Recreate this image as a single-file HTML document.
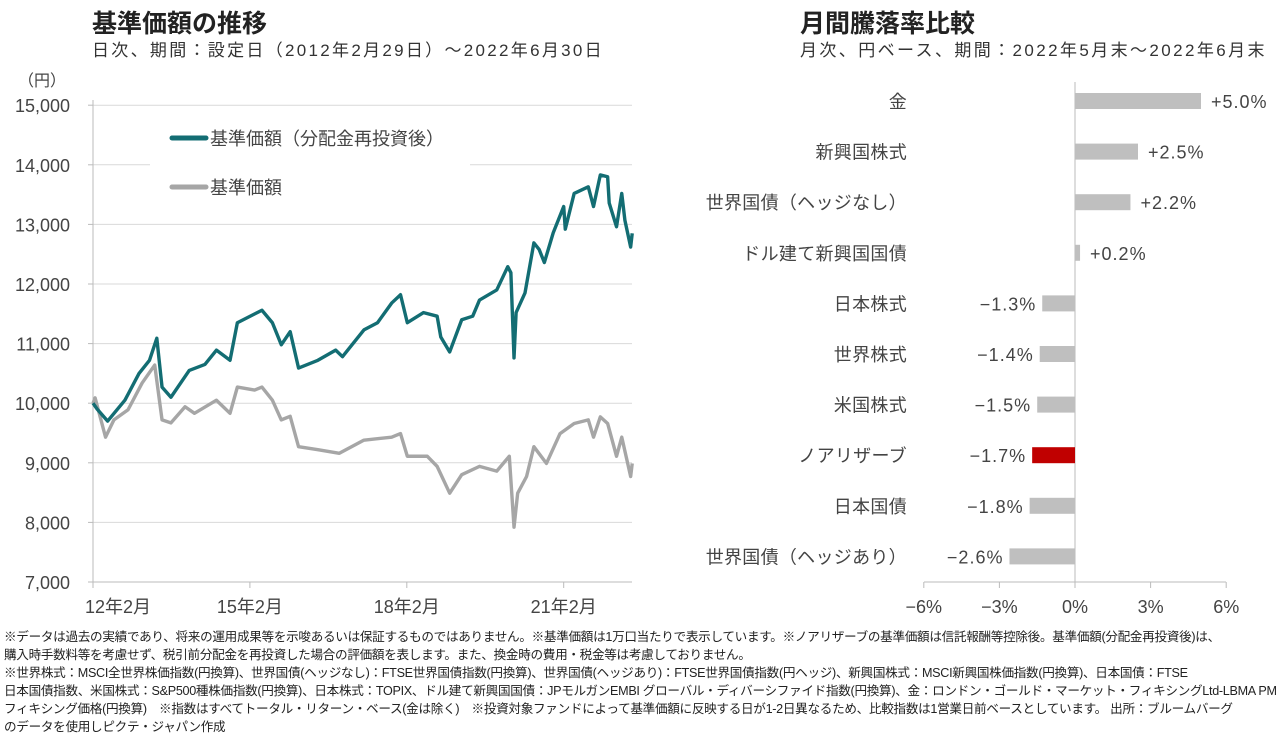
<!DOCTYPE html>
<html><head><meta charset="utf-8">
<style>
body{margin:0;width:1280px;height:730px;background:#fff;font-family:"Liberation Sans","Noto Sans CJK JP",sans-serif;color:#333;overflow:hidden;position:relative}
.t{position:absolute;white-space:nowrap}
.notes{position:absolute;left:4px;top:628px;font-size:12.6px;line-height:18px;letter-spacing:-0.3px;color:#222;white-space:nowrap}
</style></head><body>
<div class="t" style="left:92px;top:4px;font-size:25px;font-weight:bold;color:#222">基準価額の推移</div>
<div class="t" style="left:92px;top:36px;font-size:17px;letter-spacing:2.3px">日次、期間：設定日（2012年2月29日）～2022年6月30日</div>
<div class="t" style="left:800px;top:4px;font-size:25px;font-weight:bold;color:#222">月間騰落率比較</div>
<div class="t" style="left:800px;top:36px;font-size:17px;letter-spacing:2.4px">月次、円ベース、期間：2022年5月末～2022年6月末</div>
<svg id="c" width="1280" height="730" style="position:absolute;left:0;top:0"></svg>
<div class="notes">※データは過去の実績であり、将来の運用成果等を示唆あるいは保証するものではありません。※基準価額は1万口当たりで表示しています。※ノアリザーブの基準価額は信託報酬等控除後。基準価額(分配金再投資後)は、<br>購入時手数料等を考慮せず、税引前分配金を再投資した場合の評価額を表します。また、換金時の費用・税金等は考慮しておりません。<br>※世界株式：MSCI全世界株価指数(円換算)、世界国債(ヘッジなし)：FTSE世界国債指数(円換算)、世界国債(ヘッジあり)：FTSE世界国債指数(円ヘッジ)、新興国株式：MSCI新興国株価指数(円換算)、日本国債：FTSE<br>日本国債指数、米国株式：S&amp;P500種株価指数(円換算)、日本株式：TOPIX、ドル建て新興国国債：JPモルガンEMBI グローバル・ディバーシファイド指数(円換算)、金：ロンドン・ゴールド・マーケット・フィキシングLtd-LBMA PM<br>フィキシング価格(円換算)　※指数はすべてトータル・リターン・ベース(金は除く)　※投資対象ファンドによって基準価額に反映する日が1-2日異なるため、比較指数は1営業日前ベースとしています。 出所：ブルームバーグ<br>のデータを使用しピクテ・ジャパン作成</div>
<script>
const yTicks=[7000,8000,9000,10000,11000,12000,13000,14000,15000];
const xTickYears=[2012.16,2015.16,2018.16,2021.16];
const xTickLabels=["12年2月","15年2月","18年2月","21年2月"];
const reinvDates=[2012.16,2012.24,2012.44,2012.77,2013.04,2013.24,2013.38,2013.48,2013.65,2014.0,2014.3,2014.52,2014.78,2014.92,2015.39,2015.59,2015.76,2015.93,2016.09,2016.46,2016.8,2016.93,2017.34,2017.6,2017.87,2018.04,2018.17,2018.48,2018.74,2018.81,2018.98,2019.21,2019.42,2019.55,2019.88,2020.09,2020.15,2020.21,2020.25,2020.42,2020.59,2020.69,2020.79,2020.96,2021.16,2021.19,2021.36,2021.63,2021.73,2021.86,2022.0,2022.03,2022.17,2022.27,2022.33,2022.44,2022.47];
const reinvValues=[10000,9900,9700,10050,10500,10720,11090,10270,10100,10550,10650,10890,10720,11350,11560,11350,10980,11200,10590,10720,10890,10780,11230,11350,11680,11820,11350,11520,11460,11110,10860,11400,11460,11730,11900,12290,12190,10760,11520,11850,12690,12580,12360,12860,13300,12920,13520,13630,13300,13830,13800,13360,12960,13520,13070,12620,12850];
const baseDates=[2012.16,2012.2,2012.4,2012.56,2012.83,2013.1,2013.34,2013.48,2013.65,2013.92,2014.1,2014.52,2014.78,2014.92,2015.25,2015.39,2015.59,2015.76,2015.93,2016.09,2016.46,2016.87,2017.34,2017.87,2018.04,2018.17,2018.55,2018.74,2018.98,2019.21,2019.55,2019.88,2020.12,2020.21,2020.28,2020.45,2020.59,2020.83,2021.09,2021.36,2021.63,2021.73,2021.86,2022.0,2022.17,2022.27,2022.44,2022.47];
const baseValues=[10000,10090,9430,9720,9890,10340,10640,9720,9670,9940,9830,10050,9830,10270,10220,10270,10050,9720,9780,9270,9220,9160,9380,9430,9490,9110,9110,8940,8490,8800,8940,8860,9110,7920,8490,8770,9270,8990,9490,9660,9720,9430,9770,9660,9110,9430,8770,8990];
const barCats=["金","新興国株式","世界国債（ヘッジなし）","ドル建て新興国国債","日本株式","世界株式","米国株式","ノアリザーブ","日本国債","世界国債（ヘッジあり）"];
const barValues=[5.0,2.5,2.2,0.2,-1.3,-1.4,-1.5,-1.7,-1.8,-2.6];
const barLabels=["+5.0%","+2.5%","+2.2%","+0.2%","−1.3%","−1.4%","−1.5%","−1.7%","−1.8%","−2.6%"];
const pctTicks=[-6,-3,0,3,6];

const svg=document.getElementById('c');const NS='http://www.w3.org/2000/svg';
function mk(t,a,p){const e=document.createElementNS(NS,t);for(const k in a)e.setAttribute(k,a[k]);(p||svg).appendChild(e);return e;}
const X=y=>93+(y-2012.16)*52.3, Y=v=>582-(v-7000)*0.0596;
yTicks.forEach(v=>{
 if(v>7000){const g=mk('line',{x1:93,x2:632,y1:Y(v),y2:Y(v),stroke:'#d9d9d9','stroke-width':1});
 
 }
 const t=mk('text',{x:70,y:Y(v)+7,'text-anchor':'end','font-size':18,fill:'#444'});t.textContent=v.toLocaleString('en-US');
 
 
 mk('line',{x1:88,x2:93,y1:Y(v),y2:Y(v),stroke:'#bbb'});
});
const yu=mk('text',{x:18,y:86,'font-size':16,fill:'#444'});yu.textContent='（円）';


mk('line',{x1:93,x2:93,y1:100,y2:582,stroke:'#bbb'});
mk('line',{x1:93,x2:632,y1:582,y2:582,stroke:'#bbb'});
xTickYears.forEach((yr,i)=>{
 mk('line',{x1:X(yr),x2:X(yr),y1:582,y2:588,stroke:'#bbb'});
 const t=mk('text',{x:X(yr)+(i==0?-8:0),y:613,'text-anchor':i==0?'start':'middle','font-size':18,fill:'#444'});t.textContent=xTickLabels[i];
 
 
});
mk('rect',{x:150,y:118,width:320,height:90,fill:'#fff'});
function line(d,v,col,name){const p=mk('polyline',{points:d.map((x,i)=>X(x)+','+Y(v[i])).join(' '),fill:'none',stroke:col,'stroke-width':3.4,'stroke-linejoin':'round'});
 
 }
line(baseDates,baseValues,'#a6a6a6','base-price-line');
line(reinvDates,reinvValues,'#136d73','reinvested-price-line');
[['#136d73','基準価額（分配金再投資後）',138],['#a6a6a6','基準価額',187]].forEach(([c,s,y],i)=>{
 mk('line',{x1:172,x2:206,y1:y,y2:y,stroke:c,'stroke-width':5,'stroke-linecap':'round'});
 const t=mk('text',{x:210,y:y+7,'font-size':18,fill:'#444'});t.textContent=s;
 
 
});
const BX=p=>1075+p*25.2, BY=i=>101+i*50.6;
mk('line',{x1:1075,x2:1075,y1:82,y2:582,stroke:'#bbb'});
mk('line',{x1:924,x2:1226,y1:582,y2:582,stroke:'#bbb'});
pctTicks.forEach(p=>{
 mk('line',{x1:BX(p),x2:BX(p),y1:582,y2:588,stroke:'#bbb'});
 const t=mk('text',{x:BX(p),y:613,'text-anchor':'middle','font-size':18,fill:'#444'});t.textContent=(p<0?'−'+(-p):p)+'%';
 
 
});
barCats.forEach((c,i)=>{
 const v=barValues[i];const x0=Math.min(BX(0),BX(v)),w=Math.abs(BX(v)-BX(0));
 const r=mk('rect',{x:x0,y:BY(i)-8,width:Math.max(w,1),height:16,fill:c==='ノアリザーブ'?'#c00000':'#bfbfbf'});
 
 
 const t=mk('text',{x:907,y:BY(i)+7,'text-anchor':'end','font-size':18,fill:'#444','letter-spacing':'0.3'});t.textContent=c;
 
 
 const l=mk('text',{x:v>=0?BX(v)+10:BX(v)-6,y:BY(i)+7,'text-anchor':v>=0?'start':'end','font-size':18,fill:'#444','letter-spacing':'1'});l.textContent=barLabels[i];
 
 
});
</script>
</body></html>
